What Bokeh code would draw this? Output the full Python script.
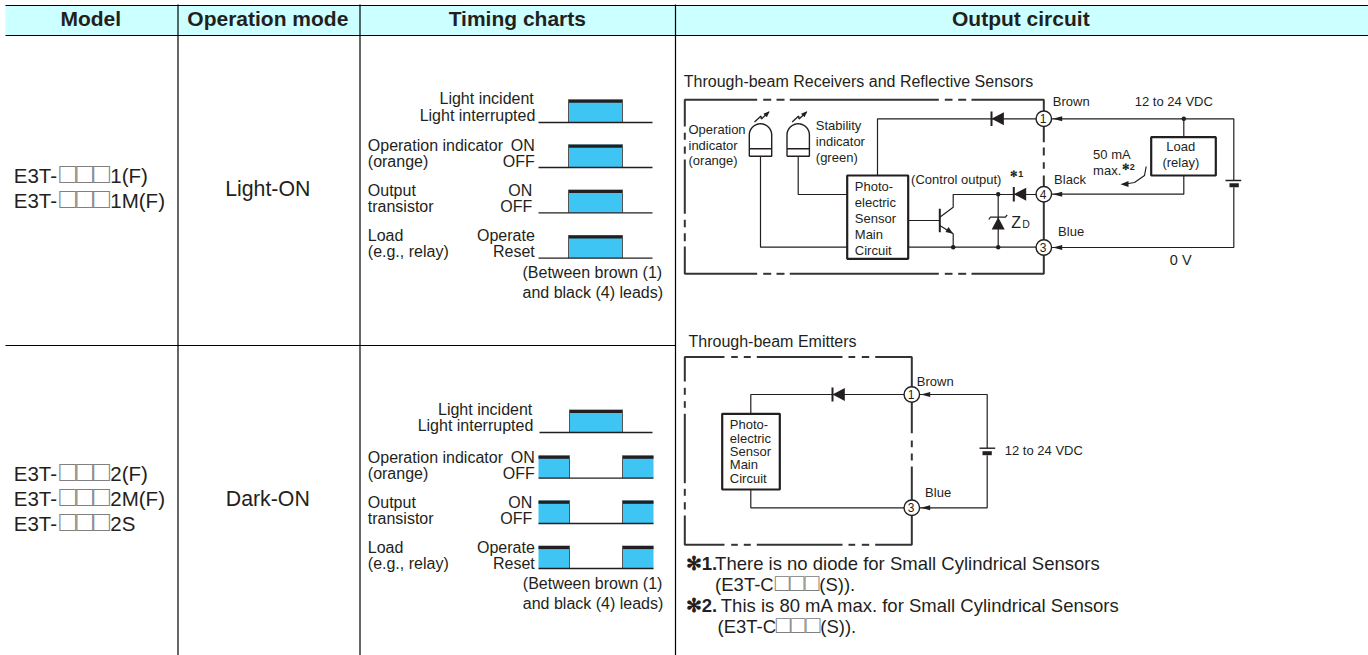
import numpy as np
from bokeh.plotting import figure
from bokeh.models import Range1d, ColumnDataSource
from bokeh.embed import file_html
from bokeh.resources import INLINE

FONT = "Liberation Sans"
INK = "#231f20"
CYAN = "#3ec5f3"
HEAD_BG = "#ccffff"
BOXGREY = "#808080"
BASE_K = 0.37
TEXT_DX = -0.7

# ---- table ----
HEADERS = ["Model", "Operation mode", "Timing charts", "Output circuit"]
HEADER_X = [91, 268, 517.5, 1021]
COLUMN_LINES = [177.5, 359.5, 675]
MODES = ["Light-ON", "Dark-ON"]

# ---- timing charts: (top of pulse, baseline) per trace ----
CHART_A_ROWS = [(99, 122), (144, 167), (189.3, 212.3), (234.7, 257.7)]
CHART_B_ROWS = [(409.3, 432), (455, 477.7), (500, 523), (545.3, 568)]
PULSE_ON_A = [(568, 622)]
PULSE_ON_B = [(569, 622)]
PULSE_OFF_B = [(538, 569), (622, 653)]

T = 16
S = 13
NOTE = 18.5
M = 20.5
# ---- text: x, baseline y, string, align, size px, style ----
TEXTS = [
    (534, 104, "Light incident", "right", T, "normal"),
    (535.5, 120.5, "Light interrupted", "right", T, "normal"),
    (368, 150.7, "Operation indicator", "left", T, "normal"),
    (535, 150.7, "ON", "right", T, "normal"),
    (368, 166.7, "(orange)", "left", T, "normal"),
    (535, 166.7, "OFF", "right", T, "normal"),
    (368, 195.7, "Output", "left", T, "normal"),
    (532.5, 195.7, "ON", "right", T, "normal"),
    (368, 211.7, "transistor", "left", T, "normal"),
    (532.5, 211.7, "OFF", "right", T, "normal"),
    (368, 240.7, "Load", "left", T, "normal"),
    (535, 240.7, "Operate", "right", T, "normal"),
    (368, 256.7, "(e.g., relay)", "left", T, "normal"),
    (535, 256.7, "Reset", "right", T, "normal"),
    (522.7, 278, "(Between brown (1)", "left", T, "normal"),
    (522.7, 298, "and black (4) leads)", "left", T, "normal"),
    (532.5, 414.7, "Light incident", "right", T, "normal"),
    (533.5, 431, "Light interrupted", "right", T, "normal"),
    (368, 462.7, "Operation indicator", "left", T, "normal"),
    (535, 462.7, "ON", "right", T, "normal"),
    (368, 478.7, "(orange)", "left", T, "normal"),
    (535, 478.7, "OFF", "right", T, "normal"),
    (368, 508, "Output", "left", T, "normal"),
    (532.5, 508, "ON", "right", T, "normal"),
    (368, 524, "transistor", "left", T, "normal"),
    (532.5, 524, "OFF", "right", T, "normal"),
    (368, 553, "Load", "left", T, "normal"),
    (535, 553, "Operate", "right", T, "normal"),
    (368, 569, "(e.g., relay)", "left", T, "normal"),
    (535, 569, "Reset", "right", T, "normal"),
    (523, 589, "(Between brown (1)", "left", T, "normal"),
    (523, 609, "and black (4) leads)", "left", T, "normal"),
    # circuit 1
    (684, 86.7, "Through-beam Receivers and Reflective Sensors", "left", T, "normal"),
    (688.7, 134, "Operation", "left", S, "normal"),
    (688.7, 149.7, "indicator", "left", S, "normal"),
    (688.7, 165, "(orange)", "left", S, "normal"),
    (816, 130, "Stability", "left", S, "normal"),
    (816, 145.7, "indicator", "left", S, "normal"),
    (816, 161.7, "(green)", "left", S, "normal"),
    (855, 191, "Photo-", "left", S, "normal"),
    (855, 206.7, "electric", "left", S, "normal"),
    (855, 222.7, "Sensor", "left", S, "normal"),
    (855, 239, "Main", "left", S, "normal"),
    (855, 255, "Circuit", "left", S, "normal"),
    (911.3, 184, "(Control output)", "left", S, "normal"),
    (1010.5, 176.7, "✻1", "left", 9, "bold"),
    (1053, 105.7, "Brown", "left", S, "normal"),
    (1135, 105.7, "12 to 24 VDC", "left", S, "normal"),
    (1181, 151, "Load", "center", S, "normal"),
    (1181, 167, "(relay)", "center", S, "normal"),
    (1093.3, 159, "50 mA", "left", S, "normal"),
    (1093.3, 175, "max.", "left", S, "normal"),
    (1122, 170, "✻2", "left", 9, "bold"),
    (1054.3, 184, "Black", "left", S, "normal"),
    (1058.3, 236, "Blue", "left", S, "normal"),
    (1170, 265, "0 V", "left", 14.5, "normal"),
    (1011.5, 227.7, "Z", "left", 16, "normal"),
    (1022.5, 227.7, "D", "left", 10.5, "normal"),
    # circuit 2
    (688.7, 346.7, "Through-beam Emitters", "left", T, "normal"),
    (730, 429, "Photo-", "left", S, "normal"),
    (730, 442.7, "electric", "left", S, "normal"),
    (730, 455.7, "Sensor", "left", S, "normal"),
    (730, 468.7, "Main", "left", S, "normal"),
    (730, 482.7, "Circuit", "left", S, "normal"),
    (1005, 455, "12 to 24 VDC", "left", S, "normal"),
    (917, 386, "Brown", "left", S, "normal"),
    (925.3, 496.7, "Blue", "left", S, "normal"),
    # notes
    (686, 570, "✻1.", "left", NOTE, "bold"),
    (715.3, 570, "There is no diode for Small Cylindrical Sensors", "left", NOTE, "normal"),
    (715.3, 590.7, "(E3T-C", "left", NOTE, "normal"),
    (819.5, 590.7, "(S)).", "left", NOTE, "normal"),
    (686, 611.7, "✻2.", "left", NOTE, "bold"),
    (721, 611.7, "This is 80 mA max. for Small Cylindrical Sensors", "left", NOTE, "normal"),
    (717.7, 633, "(E3T-C", "left", NOTE, "normal"),
    (820.5, 633, "(S)).", "left", NOTE, "normal"),
    # model cells
    (14, 183, "E3T-", "left", M, "normal"), (110.5, 183, "1(F)", "left", M, "normal"),
    (14, 208, "E3T-", "left", M, "normal"), (110.5, 208, "1M(F)", "left", M, "normal"),
    (14, 481, "E3T-", "left", M, "normal"), (110.5, 481, "2(F)", "left", M, "normal"),
    (14, 506, "E3T-", "left", M, "normal"), (110.5, 506, "2M(F)", "left", M, "normal"),
    (14, 531, "E3T-", "left", M, "normal"), (110.5, 531, "2S", "left", M, "normal"),
]
# placeholder boxes: x, baseline y, size
BOX_TEXTS = [(59.5, 183.5, 28), (59.5, 208.5, 28), (59.5, 481.5, 28), (59.5, 506.5, 28), (59.5, 531.5, 28),
             (775, 591, 24.5), (776, 633.3, 24.5)]

# ---- circuit geometry ----
TERMINALS = [(1043.3, 118.3, "1"), (1043.3, 193.7, "4"), (1043.3, 247, "3"),
             (911.3, 394, "1"), (911.3, 507.3, "3")]
BOX1_SOLID = [
    [(684.3, 126), (684.3, 99.3), (756.7, 99.3)],
    [(762.7, 99.3), (770.7, 99.3)], [(776, 99.3), (784, 99.3)],
    [(789.3, 99.3), (938.3, 99.3)],
    [(944.3, 99.3), (952, 99.3)], [(957.7, 99.3), (965.7, 99.3)],
    [(971, 99.3), (1043.3, 99.3), (1043.3, 141.7)],
    [(1043.3, 147), (1043.3, 155)], [(1043.3, 161.7), (1043.3, 168.3)],
    [(1043.3, 175), (1043.3, 273.3), (971, 273.3)],
    [(965.7, 273.3), (957.7, 273.3)], [(952, 273.3), (944.3, 273.3)],
    [(938.3, 273.3), (789.3, 273.3)],
    [(784, 273.3), (776, 273.3)], [(770.7, 273.3), (762.7, 273.3)],
    [(756.7, 273.3), (684.3, 273.3), (684.3, 246)],
    [(684.3, 240.7), (684.3, 232.7)], [(684.3, 226.7), (684.3, 219.3)],
    [(684.3, 213.3), (684.3, 159)],
    [(684.3, 153.3), (684.3, 146)], [(684.3, 139.3), (684.3, 132.3)],
]
BOX2_SOLID = [
    [(684.3, 381), (684.3, 356.5), (724, 356.5)],
    [(730.7, 356.5), (737.3, 356.5)], [(743.3, 356.5), (750.3, 356.5)],
    [(756.3, 356.5), (842, 356.5)],
    [(848, 356.5), (854.7, 356.5)], [(861.3, 356.5), (868.7, 356.5)],
    [(874.7, 356.5), (911.3, 356.5), (911.3, 432.7)],
    [(911.3, 440), (911.3, 446.7)], [(911.3, 453), (911.3, 460)],
    [(911.3, 466), (911.3, 544.3), (874.7, 544.3)],
    [(868.7, 544.3), (861.3, 544.3)], [(854.7, 544.3), (848, 544.3)],
    [(842, 544.3), (756.3, 544.3)],
    [(750.3, 544.3), (743.3, 544.3)], [(737.3, 544.3), (730.7, 544.3)],
    [(724, 544.3), (684.3, 544.3), (684.3, 515)],
    [(684.3, 509), (684.3, 501.7)], [(684.3, 495.3), (684.3, 488.3)],
    [(684.3, 482.7), (684.3, 413.3)],
    [(684.3, 407.3), (684.3, 400.7)], [(684.3, 394.3), (684.3, 387.3)],
]
WIRES = [
    [(760, 155.7), (760, 246.7), (846.7, 246.7)],
    [(797.7, 155.7), (797.7, 194), (846.7, 194)],
    [(877, 175), (877, 118.3), (1043.3, 118.3)],
    [(1043.3, 118.3), (1233.3, 118.3), (1233.3, 180)],
    [(1233.3, 186.7), (1233.3, 247), (1043.3, 247)],
    [(1183.3, 118.3), (1183.3, 136.7)],
    [(1183.3, 175), (1183.3, 193.7), (1043.3, 193.7)],
    [(907.7, 246.7), (1043.3, 246.7)],
    [(907.7, 220), (939.3, 220)],
    [(939.3, 216.7), (952.7, 206.7), (952.7, 194), (1043.3, 194)],
    [(939.3, 225), (952.7, 233.3), (952.7, 246.7)],
    [(997.7, 193.7), (997.7, 246.7)],
    [(988.3, 219), (990, 216.7), (1005, 216.7), (1006.7, 214.4)],
    [(1145.7, 166), (1144, 175), (1134, 182), (1122, 184)],
    [(911.3, 394), (750.3, 394), (750.3, 413.3)],
    [(750.3, 489), (750.3, 507.3), (911.3, 507.3)],
    [(911.3, 394), (986.7, 394), (986.7, 447.7)],
    [(986.7, 454.7), (986.7, 507.3), (911.3, 507.3)],
]
THICK_BARS = [
    [(939.3, 208.3), (939.3, 231.7)],
    [(991, 111), (991, 125.5)],
    [(1013.3, 186.5), (1013.3, 201)],
    [(832, 387), (832, 401)],
]
THIN_PLATES = [[(1225, 180), (1240.7, 180)], [(979, 447.7), (994.7, 447.7)]]
THICK_PLATES = [[(1229, 184.7), (1238.3, 184.7)], [(982, 452.7), (991.3, 452.7)]]
TRIANGLES = [
    [(991, 118.3), (1003.4, 111.8), (1003.4, 124.8)],
    [(1013.3, 193.7), (1025.7, 187.2), (1025.7, 200.2)],
    [(832, 394), (844.3, 387.5), (844.3, 400.5)],
    [(997.7, 216.7), (991.2, 229), (1004.2, 229)],
    [(1052.3, 118.3), (1061.7, 115.8), (1061.7, 120.8)],
    [(1052.3, 193.7), (1061.7, 191.2), (1061.7, 196.2)],
    [(1052.3, 247), (1061.7, 244.5), (1061.7, 249.5)],
    [(920.3, 394), (929.7, 391.5), (929.7, 396.5)],
    [(920.3, 507.3), (929.7, 504.8), (929.7, 509.8)],
    [(1120, 183.8), (1128, 180.5), (1128, 186.5)],
    [(952.7, 233.3), (945, 231.5), (948, 226.5)],
]
DOTS = [(1183.3, 118.3), (997.7, 193.7), (997.7, 246.7), (952.7, 246.7)]
THICK_BOXES = [(846.7, 907.7, 175, 258.3), (1150.7, 1215.3, 136.7, 175), (721.7, 779.3, 413.3, 489)]
LED_CENTERS = [760, 797.7]
SPARK = [(-6, -1.5), (0.5, -7.5), (0.8, -4.5), (8.5, -11.5)]
SPARK_HEAD = [(9, -12.2), (2.8, -9.8), (6.4, -6.2)]

p = figure(width=1368, height=655, output_backend="svg", toolbar_location=None,
           x_range=Range1d(0, 1368), y_range=Range1d(655, 0),
           x_axis_type=None, y_axis_type=None, min_border=0, outline_line_color=None)
p.grid.visible = False


def lines(paths, width=1.0, color=INK):
    p.multi_line([[a for a, _ in s] for s in paths], [[b for _, b in s] for s in paths],
                 line_color=color, line_width=width)


def fills(polys, color=INK):
    p.patches([[a for a, _ in s] for s in polys], [[b for _, b in s] for s in polys],
              fill_color=color, line_color=None)


# table
p.quad(left=[5], right=[1368], top=[5], bottom=[35], fill_color=HEAD_BG, line_color=None)
lines([[(5, 5), (1368, 5)], [(5, 35), (1368, 35)], [(5, 345), (675, 345)]], 1.2, "#000000")
lines([[(c, 4), (c, 655)] for c in COLUMN_LINES], 1.2, "#000000")

# timing charts
for rows, on in [(CHART_A_ROWS, [PULSE_ON_A] * 4),
                 (CHART_B_ROWS, [PULSE_ON_B] + [PULSE_OFF_B] * 3)]:
    for (top, base), spans in zip(rows, on):
        for a, b in spans:
            p.quad(left=[a], right=[b], top=[top], bottom=[base], fill_color=CYAN, line_color=None)
            p.quad(left=[a], right=[b], top=[top], bottom=[top + 3.3], fill_color="#231f20", line_color=None)
            edges = [x for x in (a, b) if 540 < x < 650]
            lines([[(x, top), (x, base)] for x in edges], 1.0, "#555555")
        x0 = 538 if spans[0][0] < 545 or rows is CHART_A_ROWS else 539
        x1 = 653 if spans[-1][1] > 650 else 652
        lines([[(x0, base), (x1, base)]], 1.3)

# circuit
lines(BOX1_SOLID, 2.0, "#333333")
lines(BOX2_SOLID, 2.0, "#333333")
lines(WIRES, 1.2)
lines(THICK_BARS, 2.0)
lines(THIN_PLATES, 1.4)
lines(THICK_PLATES, 4.0)
fills(TRIANGLES)
p.scatter([d[0] for d in DOTS], [d[1] for d in DOTS], size=4.5, fill_color=INK, line_color=None)
for l, r, t, b in THICK_BOXES:
    p.quad(left=[l], right=[r], top=[t], bottom=[b], fill_color="#ffffff", line_color=INK, line_width=2.2)

for c in LED_CENTERS:
    ang = np.linspace(np.pi, 2 * np.pi, 40)
    xs = list(c + 11.2 * np.cos(ang))
    ys = list(134.5 + 11.2 * np.sin(ang))
    lines([[(c - 11.2, 155.7)] + list(zip(xs, ys)) + [(c + 11.2, 155.7), (c - 11.2, 155.7)],
           [(c - 11.2, 148.3), (c + 11.2, 148.3)]], 1.4)
    lines([[(c + a, 123 + b) for a, b in SPARK]], 1.3)
    fills([[(c + a, 123 + b) for a, b in SPARK_HEAD]])

p.scatter([t[0] for t in TERMINALS], [t[1] for t in TERMINALS], size=15.5,
          fill_color="#ffffff", line_color=INK, line_width=1.4)
p.text([t[0] + TEXT_DX for t in TERMINALS], [t[1] + 4.3 - BASE_K * 12 for t in TERMINALS], text=[t[2] for t in TERMINALS],
       text_font={"value": FONT}, text_font_size={"value": "12px"}, text_align="center",
       text_baseline="alphabetic", text_color=INK)

# texts
rows = list(TEXTS)
rows += [(x, 26, h, "center", 21, "bold") for x, h in zip(HEADER_X, HEADERS)]
rows += [(268, 196.5, MODES[0], "center", 21.3, "normal"), (268, 506, MODES[1], "center", 21.3, "normal")]
src = ColumnDataSource(dict(
    x=[t[0] + TEXT_DX for t in rows],
    y=[t[1] - BASE_K * t[4] for t in rows],
    text=[t[2] for t in rows],
    align=[t[3] for t in rows],
    size=[f"{t[4]}px" for t in rows],
    style=[t[5] for t in rows],
))
p.text("x", "y", text="text", source=src, text_align="align", text_font_size="size",
       text_font_style="style", text_color=INK, text_font={"value": FONT},
       text_baseline="alphabetic")
bsrc = ColumnDataSource(dict(
    x=[b[0] + TEXT_DX for b in BOX_TEXTS],
    y=[b[1] - BASE_K * b[2] for b in BOX_TEXTS],
    text=["□□□"] * len(BOX_TEXTS),
    size=[f"{b[2]}px" for b in BOX_TEXTS],
))
p.text("x", "y", text="text", source=bsrc, text_font_size="size", text_color=BOXGREY,
       text_font={"value": FONT}, text_baseline="alphabetic")

open("out.html", "w").write(file_html(p, INLINE))
